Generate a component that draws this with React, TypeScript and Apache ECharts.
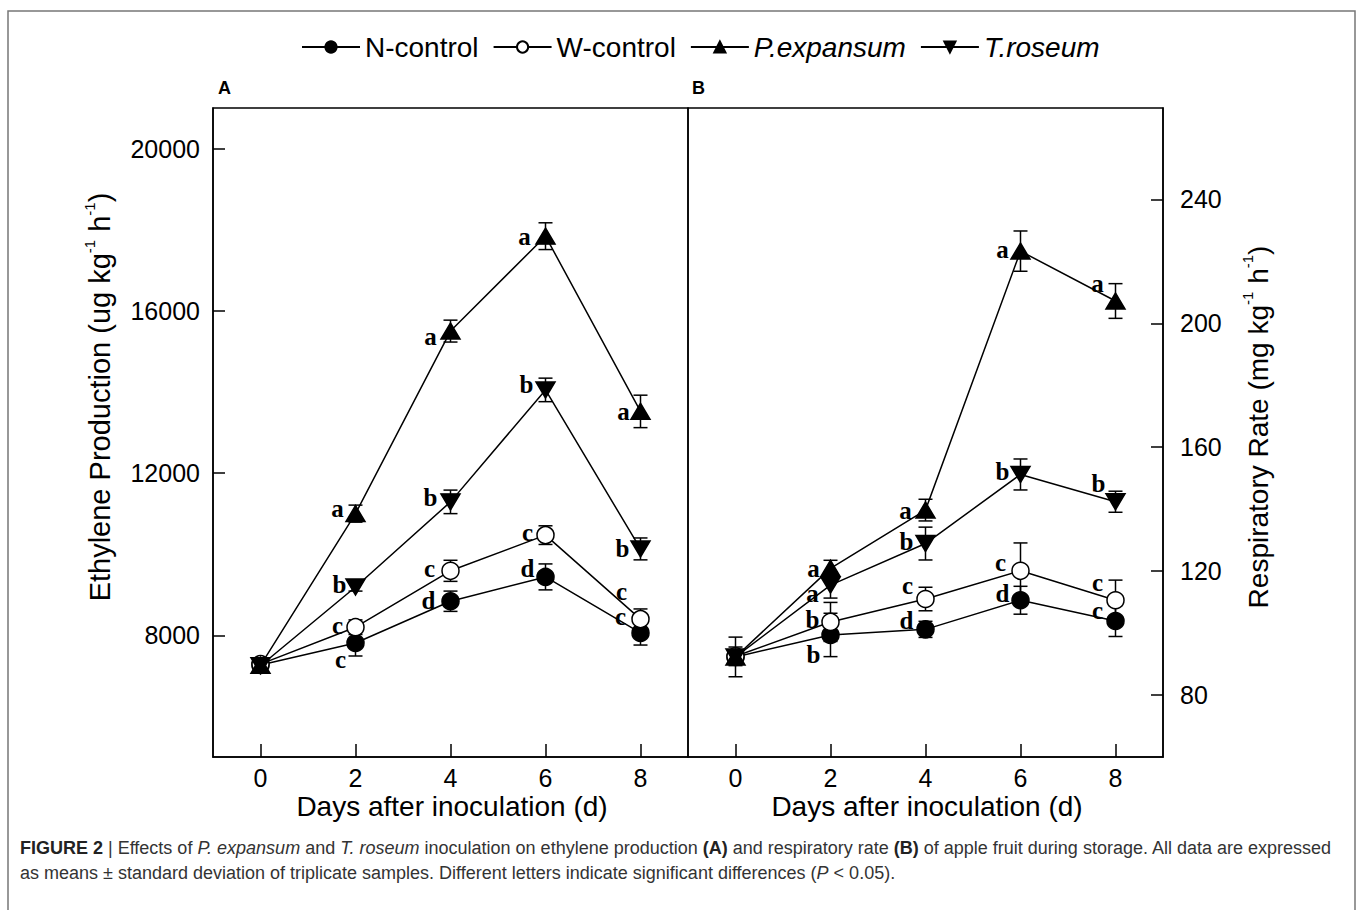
import React, { useEffect, useRef } from 'react';
import * as echarts from 'echarts';

// ---------- data ----------
const days = [0, 2, 4, 6, 8];
const seriesNames = ['N-control', 'W-control', 'P.expansum', 'T.roseum'];
const italicNames = ['P.expansum', 'T.roseum'];

// Panel A: ethylene production (ug kg-1 h-1)
const ethyleneN = [7270, 7810, 8840, 9440, 8060];
const ethyleneNsd = [150, 320, 250, 320, 300];
const ethyleneW = [7290, 8200, 9590, 10470, 8400];
const ethyleneWsd = [100, 180, 260, 230, 250];
const ethyleneP = [7260, 11000, 15500, 17840, 13520];
const ethylenePsd = [100, 210, 270, 330, 400];
const ethyleneT = [7250, 9190, 11290, 14050, 10130];
const ethyleneTsd = [120, 100, 290, 290, 270];

const lettersAN = ['', 'c', 'd', 'd', 'c'];
const lettersAW = ['', 'c', 'c', 'c', 'c'];
const lettersAP = ['', 'a', 'a', 'a', 'a'];
const lettersAT = ['', 'b', 'b', 'b', 'b'];

// Panel B: respiratory rate (mg kg-1 h-1)
const respN = [92.3, 99.4, 101.2, 110.6, 103.9];
const respNsd = [6.4, 7.0, 2.6, 4.5, 5.0];
const respW = [92.5, 103.6, 111.0, 120.1, 110.6];
const respWsd = [3, 6.3, 3.8, 9.0, 6.5];
const respP = [92.3, 120.9, 139.7, 223.3, 207.2];
const respPsd = [2, 2.6, 3.5, 6.5, 5.6];
const respT = [92.3, 115.5, 128.9, 151.2, 142.4];
const respTsd = [2, 4.2, 5.3, 5.0, 3.4];

const lettersBN = ['', 'b', 'd', 'd', 'c'];
const lettersBW = ['', 'b', 'c', 'c', 'c'];
const lettersBP = ['', 'a', 'a', 'a', 'a'];
const lettersBT = ['', 'a', 'b', 'b', 'b'];

const xTicks = [0, 2, 4, 6, 8];
const yTicksA = [8000, 12000, 16000, 20000];
const yTicksB = [80, 120, 160, 200, 240];

// ---------- layout (label placements, px offsets from marker centre) ----------
const offAN = [[0, 0], [-15, 16], [-22, -1], [-18, -8], [-20, -16]];
const offAW = [[0, 0], [-18, -2], [-21, -2], [-18, -3], [-19, -28]];
const offAP = [[0, 0], [-18, -5], [-20, 5], [-21, 0], [-17, 0]];
const offAT = [[0, 0], [-16, -3], [-20, -4], [-19, -5], [-18, 0]];
const offBN = [[0, 0], [-17, 20], [-19, -9], [-18, -7], [-18, -11]];
const offBW = [[0, 0], [-18, -2], [-18, -14], [-20, -8], [-18, -18]];
const offBP = [[0, 0], [-17, 0], [-20, 0], [-18, -2], [-18, -17]];
const offBT = [[0, 0], [-18, 8], [-19, -2], [-18, -3], [-17, -18]];

const SANS = 'Liberation Sans, Arial, sans-serif';
const SERIF = 'Liberation Serif, Times New Roman, serif';

const UP_TRI = 'path://M5,0 L10,8.5 L0,8.5 Z';
const DOWN_TRI = 'path://M0,0 L10,0 L5,8.5 Z';

const symbolFor: Record<string, any> = {
  'N-control': { symbol: 'circle', size: 17, fill: '#000' },
  'W-control': { symbol: 'circle', size: 17, fill: '#fff' },
  'P.expansum': { symbol: UP_TRI, size: [19, 16], fill: '#000' },
  'T.roseum': { symbol: DOWN_TRI, size: [19, 16], fill: '#000' },
};

function lineSeries(name: string, g: number, values: number[], letters: string[], offs: number[][]) {
  const s = symbolFor[name];
  return {
    type: 'line',
    name,
    xAxisIndex: g,
    yAxisIndex: g,
    data: days.map((d, i) => ({
      value: [d, values[i]],
      label: { show: letters[i] !== '', formatter: letters[i], offset: offs[i] },
    })),
    symbol: s.symbol,
    symbolSize: s.size,
    showAllSymbol: true,
    itemStyle: { color: s.fill, borderColor: '#000', borderWidth: 1.5, opacity: 1 },
    lineStyle: { color: '#000', width: 1.5 },
    label: {
      position: 'inside',
      fontFamily: SERIF,
      fontWeight: 'bold',
      fontSize: 25,
      color: '#000',
      textBorderWidth: 0,
      align: 'center',
      verticalAlign: 'middle',
    },
    emphasis: { disabled: true },
    z: 3,
  };
}

function errSeries(g: number, values: number[], sd: number[]) {
  return {
    type: 'custom',
    name: 'err',
    xAxisIndex: g,
    yAxisIndex: g,
    silent: true,
    z: 2,
    data: days.map((d, i) => [d, values[i] - sd[i], values[i] + sd[i]]),
    encode: { x: 0, y: [1, 2] },
    renderItem: (_p: any, api: any) => {
      const x = api.value(0);
      const top = api.coord([x, api.value(2)]);
      const bot = api.coord([x, api.value(1)]);
      const w = 7;
      const st = { stroke: '#000', lineWidth: 1.5 };
      return {
        type: 'group',
        children: [
          { type: 'line', shape: { x1: top[0], y1: top[1], x2: bot[0], y2: bot[1] }, style: st },
          { type: 'line', shape: { x1: top[0] - w, y1: top[1], x2: top[0] + w, y2: top[1] }, style: st },
          { type: 'line', shape: { x1: bot[0] - w, y1: bot[1], x2: bot[0] + w, y2: bot[1] }, style: st },
        ],
      };
    },
  };
}

const plain = (v: number) => String(v);

function xAxisFor(g: number) {
  return {
    type: 'value',
    gridIndex: g,
    min: -1,
    max: 9,
    axisLine: { show: true, onZero: false, lineStyle: { color: '#000', width: 1.5 } },
    axisTick: { show: true, inside: true, length: 13, customValues: xTicks, lineStyle: { color: '#000', width: 1.5 } },
    axisLabel: { customValues: xTicks, formatter: plain, fontSize: 25, fontFamily: SANS, color: '#000', margin: 8 },
    splitLine: { show: false },
  };
}

const capRich = (sz: number) => ({
  b: { fontSize: sz, fontFamily: SANS, fontWeight: 'bold', fill: '#222' },
  r: { fontSize: sz, fontFamily: SANS, fill: '#333' },
  i: { fontSize: sz, fontFamily: SANS, fontStyle: 'italic', fill: '#333' },
});

export default function App() {
  const ref = useRef<HTMLDivElement>(null);
  useEffect(() => {
    if (!ref.current) return;
    const chart = echarts.init(ref.current, undefined, { renderer: 'svg' });
    const gridTop = 108;
    const gridH = 649;
    const capSize = 18;
    const option: any = {
      animation: false,
      backgroundColor: '#fff',
      legend: {
        data: seriesNames,
        top: 28,
        left: 296,
        itemWidth: 58,
        itemHeight: 14,
        itemGap: 14,
        selectedMode: false,
        formatter: (n: string) => (italicNames.includes(n) ? `{i|${n}}` : n),
        textStyle: {
          fontSize: 28,
          fontFamily: SANS,
          color: '#000',
          rich: { i: { fontSize: 28, fontFamily: SANS, fontStyle: 'italic', color: '#000' } },
        },
      },
      grid: [
        { left: 213, top: gridTop, width: 475, height: gridH, show: true, borderColor: '#000', borderWidth: 1.5 },
        { left: 688, top: gridTop, width: 475, height: gridH, show: true, borderColor: '#000', borderWidth: 1.5 },
      ],
      xAxis: [xAxisFor(0), xAxisFor(1)],
      yAxis: [
        {
          type: 'value',
          gridIndex: 0,
          min: 5000,
          max: 21000,
          position: 'left',
          axisLine: { show: true, onZero: false, lineStyle: { color: '#000', width: 1.5 } },
          axisTick: { show: true, inside: true, length: 12, customValues: yTicksA, lineStyle: { color: '#000', width: 1.5 } },
          axisLabel: { customValues: yTicksA, formatter: plain, fontSize: 25, fontFamily: SANS, color: '#000', margin: 13 },
          splitLine: { show: false },
        },
        {
          type: 'value',
          gridIndex: 1,
          min: 60,
          max: 269.5,
          position: 'right',
          axisLine: { show: true, onZero: false, lineStyle: { color: '#000', width: 1.5 } },
          axisTick: { show: true, inside: true, length: 12, customValues: yTicksB, lineStyle: { color: '#000', width: 1.5 } },
          axisLabel: { customValues: yTicksB, formatter: plain, fontSize: 25, fontFamily: SANS, color: '#000', margin: 17 },
          splitLine: { show: false },
        },
      ],
      series: [
        errSeries(0, ethyleneN, ethyleneNsd),
        errSeries(0, ethyleneW, ethyleneWsd),
        errSeries(0, ethyleneP, ethylenePsd),
        errSeries(0, ethyleneT, ethyleneTsd),
        errSeries(1, respN, respNsd),
        errSeries(1, respW, respWsd),
        errSeries(1, respP, respPsd),
        errSeries(1, respT, respTsd),
        lineSeries('N-control', 0, ethyleneN, lettersAN, offAN),
        lineSeries('W-control', 0, ethyleneW, lettersAW, offAW),
        lineSeries('P.expansum', 0, ethyleneP, lettersAP, offAP),
        lineSeries('T.roseum', 0, ethyleneT, lettersAT, offAT),
        lineSeries('N-control', 1, respN, lettersBN, offBN),
        lineSeries('W-control', 1, respW, lettersBW, offBW),
        lineSeries('P.expansum', 1, respP, lettersBP, offBP),
        lineSeries('T.roseum', 1, respT, lettersBT, offBT),
      ],
      graphic: [
        {
          type: 'rect',
          shape: { x: 8, y: 11, width: 1347, height: 920 },
          style: { fill: 'none', stroke: '#777', lineWidth: 1.5 },
          silent: true,
        },
        { type: 'text', x: 218, y: 88, style: { text: 'A', fontSize: 18, fontWeight: 'bold', fontFamily: SANS, fill: '#000', verticalAlign: 'middle' } },
        { type: 'text', x: 692, y: 88, style: { text: 'B', fontSize: 18, fontWeight: 'bold', fontFamily: SANS, fill: '#000', verticalAlign: 'middle' } },
        {
          type: 'text', x: 452, y: 806,
          style: { text: 'Days after inoculation (d)', fontSize: 28, fontFamily: SANS, fill: '#000', align: 'center', verticalAlign: 'middle' },
        },
        {
          type: 'text', x: 927, y: 806,
          style: { text: 'Days after inoculation (d)', fontSize: 28, fontFamily: SANS, fill: '#000', align: 'center', verticalAlign: 'middle' },
        },
        {
          type: 'text', x: 100, y: 397, rotation: Math.PI / 2,
          style: {
            text: 'Ethylene Production (ug kg{s|-1} h{s|-1})',
            fontSize: 29, fontFamily: SANS, fill: '#000', align: 'center', verticalAlign: 'middle', lineHeight: 36,
            rich: { s: { fontSize: 15, fontFamily: SANS, fill: '#000', verticalAlign: 'top', lineHeight: 15 } },
          },
        },
        {
          type: 'text', x: 1258, y: 427, rotation: Math.PI / 2,
          style: {
            text: 'Respiratory Rate (mg kg{s|-1} h{s|-1})',
            fontSize: 28, fontFamily: SANS, fill: '#000', align: 'center', verticalAlign: 'middle', lineHeight: 36,
            rich: { s: { fontSize: 15, fontFamily: SANS, fill: '#000', verticalAlign: 'top', lineHeight: 15 } },
          },
        },
        {
          type: 'text', x: 20, y: 848,
          style: {
            text:
              '{b|FIGURE 2} {r|| Effects of }{i|P. expansum}{r| and }{i|T. roseum}{r| inoculation on ethylene production }{b|(A)}{r| and respiratory rate }{b|(B)}{r| of apple fruit during storage. All data are expressed}',
            fontSize: capSize, fontFamily: SANS, fill: '#333', verticalAlign: 'middle',
            rich: capRich(capSize),
          },
        },
        {
          type: 'text', x: 20, y: 873,
          style: {
            text: '{r|as means ± standard deviation of triplicate samples. Different letters indicate significant differences (}{i|P}{r| < 0.05).}',
            fontSize: capSize, fontFamily: SANS, fill: '#333', verticalAlign: 'middle',
            rich: capRich(capSize),
          },
        },
      ],
    };
    chart.setOption(option);
    return () => chart.dispose();
  }, []);
  return (
    <div
      ref={ref}
      style={{ position: 'fixed', left: 0, top: 0, width: 1358, height: 910, background: '#fff' }}
    />
  );
}
